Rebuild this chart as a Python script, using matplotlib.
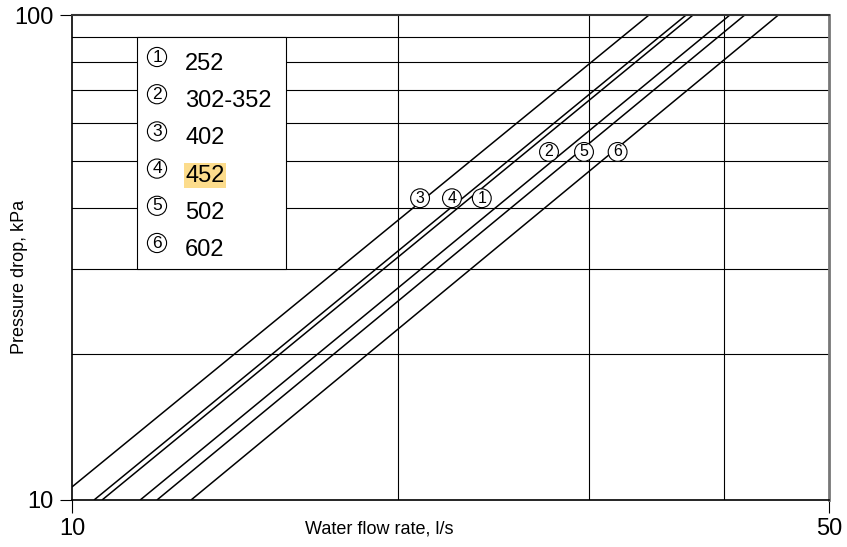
import matplotlib
matplotlib.use('Agg')
import matplotlib.pyplot as plt
from matplotlib.patches import Rectangle

plt.rcParams['font.family'] = ['Liberation Sans', 'DejaVu Sans']

# curves: end points on the 10 kPa and 100 kPa lines
curve_ids = ['3', '4', '1', '2', '5', '6']
flow_lo = [10.0, 10.48, 10.66, 11.56, 11.98, 12.88]
dp_lo = [10.64, 10.0, 10.0, 10.0, 10.0, 10.0]
flow_hi = [34.1, 36.9, 37.45, 40.5, 41.8, 44.9]
dp_hi = [100, 100, 100, 100, 100, 100]

# circled curve numbers in the plot
mark_ids = ['3', '4', '1', '2', '5', '6']
mark_flow = [20.96, 22.43, 23.9, 27.57, 29.7, 31.9]
mark_dp = [41.9, 41.9, 41.9, 52.2, 52.2, 52.2]

# legend
legend_ids = ['1', '2', '3', '4', '5', '6']
legend_models = ['252', '302-352', '402', '452', '502', '602']

grid_flow = [20, 30, 40]
grid_dp = [20, 30, 40, 50, 60, 70, 80, 90]

fig = plt.figure(figsize=(8.47, 5.47), dpi=100)
ax = fig.add_axes([72 / 847, 47 / 547, 757 / 847, 485 / 547])
ax.set_xscale('log')
ax.set_yscale('log')
ax.set_xlim(10, 50)
ax.set_ylim(10, 100)

for g in grid_flow:
    ax.axvline(g, color='black', lw=0.8, zorder=1)
for g in grid_dp:
    ax.axhline(g, color='black', lw=0.8, zorder=1)

for i in range(len(curve_ids)):
    ax.plot([flow_lo[i], flow_hi[i]], [dp_lo[i], dp_hi[i]], color='black', lw=1.1,
            zorder=2, solid_capstyle='butt')

for i in range(len(mark_ids)):
    ax.text(mark_flow[i], mark_dp[i], mark_ids[i], fontsize=11.5, ha='center', va='center',
            bbox=dict(boxstyle='circle,pad=0.12', fc='white', ec='black', lw=0.8), zorder=4)

# legend box
ax.add_patch(Rectangle((65 / 757, 231 / 485), 149 / 757, 232 / 485, transform=ax.transAxes,
                       fc='white', ec='black', lw=0.8, zorder=3))
for i in range(len(legend_ids)):
    yc = (500 - 57 - 37.2 * i) / 485
    yb = (500 - 70 - 37.2 * i) / 485
    ax.text(85 / 757, yc, legend_ids[i], transform=ax.transAxes, fontsize=12.5,
            ha='center', va='center', zorder=4,
            bbox=dict(boxstyle='circle,pad=0.12', fc='white', ec='black', lw=0.8))
    kw = {}
    if legend_models[i] == '452':
        kw['bbox'] = dict(boxstyle='square,pad=0.05', fc='#fcdc8c', ec='none')
    ax.text(113 / 757, yb, legend_models[i], transform=ax.transAxes, fontsize=17,
            ha='left', va='baseline', zorder=4, **kw)

ax.set_xticks([10, 50])
ax.set_xticklabels(['10', '50'])
ax.set_yticks([10, 100])
ax.set_yticklabels(['10', '100'])
ax.minorticks_off()
ax.tick_params(axis='both', which='major', direction='out', length=9, width=0.8,
               labelsize=17, pad=4)

for s in ['left', 'bottom']:
    ax.spines[s].set_linewidth(1.2)
    ax.spines[s].set_color('black')
ax.spines['top'].set_color('#333333')
ax.spines['top'].set_linewidth(1.5)
ax.spines['right'].set_color('#777777')
ax.spines['right'].set_linewidth(2)

ax.set_xlabel('Water flow rate, l/s', fontsize=13)
ax.xaxis.set_label_coords(307 / 757, -20 / 485)
ax.set_ylabel('Pressure drop, kPa', fontsize=13)
ax.yaxis.set_label_coords(-44 / 757, 223 / 485)

fig.savefig('out.png', dpi=100)
